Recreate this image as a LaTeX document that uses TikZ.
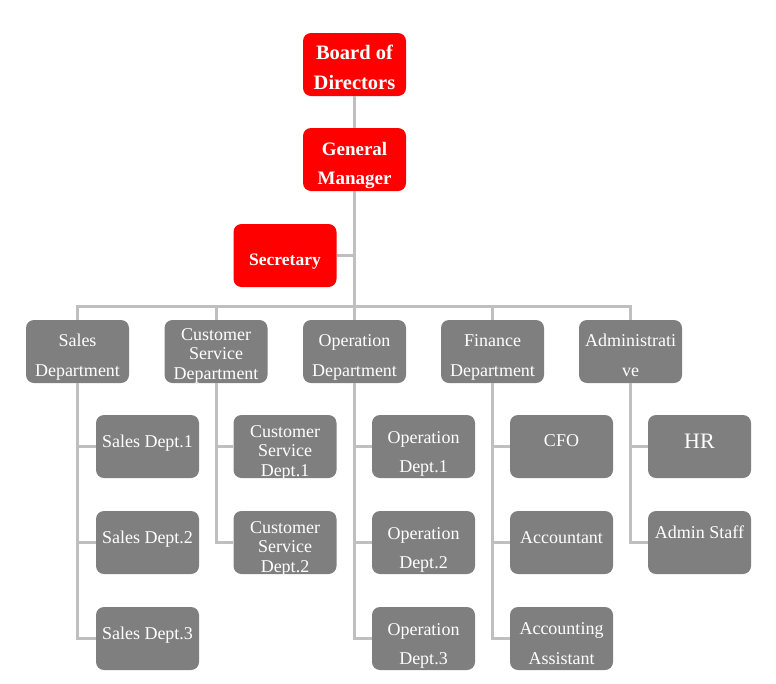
\documentclass[tikz,border=0pt]{standalone}
\usepackage{fontspec}
\setmainfont{Liberation Serif}

\definecolor{boxgrey}{RGB}{127,127,127}
\definecolor{linkgrey}{RGB}{191,191,191}

\tikzset{
	box/.style={rounded corners=8pt, minimum width=103pt, minimum height=63pt, inner sep=1pt, text=white, align=center},
	redbox/.style={box, fill=red, font=\bfseries\fontsize{19}{29}\selectfont},
	greybox/.style={box, fill=boxgrey, font=\fontsize{18}{30}\selectfont},
	oneline/.style={text depth=10pt},
	drop/.style={text height=#1, text depth=0pt},
	link/.style={draw=linkgrey, line width=3pt}
}

\begin{document}
\begin{tikzpicture}[x=1pt, y=-1pt]
		\useasboundingbox (0, 0) rectangle (776, 683);
		% top
		\node[redbox, font=\bfseries\fontsize{20.5}{30}\selectfont, drop=49.5pt] (board) at (354.5, 64.5) {Board of\\Directors};
		\node[redbox, drop=50pt] (gm) at (354.5, 159.5) {General\\Manager};
		\node[redbox, font=\bfseries\fontsize{17.5}{20}\selectfont, drop=20pt] (sec) at (285, 255.5) {Secretary};
		\coordinate (bar) at (354.5, 306);
		% departments
		\node[greybox, drop=49pt] (sales) at (77.5, 351.5) {Sales\\Department};
		\node[greybox, font=\fontsize{18}{19.5}\selectfont, drop=55pt] (cs) at (216, 351.5) {Customer\\Service\\Department};
		\node[greybox, drop=49pt] (oper) at (354.5, 351.5) {Operation\\Department};
		\node[greybox, drop=49pt] (fin) at (492.5, 351.5) {Finance\\Department};
		\node[greybox, drop=49pt] (admin) at (630.5, 351.5) {Administrati\\ve};
		% sub units
		\node[greybox, oneline] (s1) at (147.5, 446.5) {Sales Dept.1};
		\node[greybox, oneline] (s2) at (147.5, 542.5) {Sales Dept.2};
		\node[greybox, oneline] (s3) at (147.5, 638.5) {Sales Dept.3};
		\node[greybox, font=\fontsize{18}{19.5}\selectfont, drop=59.5pt] (cs1) at (285, 446.5) {Customer\\Service\\Dept.1};
		\node[greybox, font=\fontsize{18}{19.5}\selectfont, drop=59.5pt] (cs2) at (285, 542.5) {Customer\\Service\\Dept.2};
		\node[greybox, font=\fontsize{18}{29}\selectfont, drop=51.5pt] (o1) at (423.5, 446.5) {Operation\\Dept.1};
		\node[greybox, font=\fontsize{18}{29}\selectfont, drop=51.5pt] (o2) at (423.5, 542.5) {Operation\\Dept.2};
		\node[greybox, font=\fontsize{18}{29}\selectfont, drop=51.5pt] (o3) at (423.5, 638.5) {Operation\\Dept.3};
		\node[greybox, oneline, text depth=12pt] (cfo) at (561.5, 446.5) {CFO};
		\node[greybox, oneline] (acc) at (561.5, 542.5) {Accountant};
		\node[greybox, drop=51pt] (accas) at (561.5, 638.5) {Accounting\\Assistant};
		\node[greybox, oneline, font=\fontsize{22}{30}\selectfont] (hr) at (699.5, 446.5) {HR};
		\node[greybox, text depth=20pt] (staff) at (699.5, 542.5) {Admin Staff};
		% links
		\draw[link] (board) -- (gm);
		\draw[link] (gm) -- (bar);
		\draw[link] (sec.east) -- (sec.east -| gm.south);
		\draw[link] (sales.north) |- (bar) -| (admin.north);
		\foreach \d in {cs, oper, fin}
			\draw[link] (\d.north) |- (bar);
		\foreach \p/\c in {sales/s1, sales/s2, sales/s3, cs/cs1, cs/cs2, oper/o1, oper/o2, oper/o3, fin/cfo, fin/acc, fin/accas, admin/hr, admin/staff}
			\draw[link] (\p.south) |- (\c.west);
	\end{tikzpicture}
\end{document}
